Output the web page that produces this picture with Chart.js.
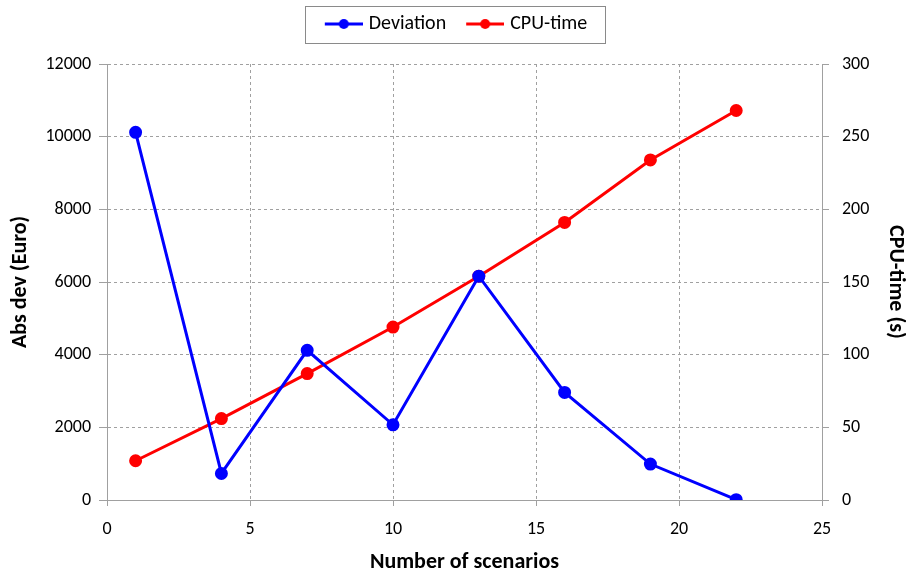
<!DOCTYPE html>
<html>
<head>
<meta charset="utf-8">
<script src="https://cdn.jsdelivr.net/npm/chart.js@4"></script>
<style>
  html, body { margin: 0; padding: 0; background: #fff; }
  #wrap { width: 906px; height: 575px; }
</style>
</head>
<body>
<div id="wrap"><canvas id="chart"></canvas></div>
<script>
// scenarios vs. deviation / cpu time
const scenarios = [1, 4, 7, 10, 13, 16, 19, 22];
const deviation = [10120, 730, 4120, 2070, 6160, 2960, 990, 10];
const cpuTime = [27, 56, 87, 119, 154, 191, 234, 268];

const FONT = "Carlito, Lato, sans-serif";
const GRID = "#a0a0a0";
const TICK_FONT = { family: FONT, size: 18 };
const TITLE_FONT = { family: FONT, size: 22, weight: "bold", lineHeight: 1 };

// line+dot swatch for the legend (blank strip on the left for spacing)
function swatch(color) {
  const c = document.createElement("canvas");
  c.width = 48;
  c.height = 12;
  const g = c.getContext("2d");
  g.strokeStyle = color;
  g.lineWidth = 3;
  g.beginPath();
  g.moveTo(10, 6);
  g.lineTo(48, 6);
  g.stroke();
  g.fillStyle = color;
  g.beginPath();
  g.arc(29, 6, 5, 0, Math.PI * 2);
  g.fill();
  return c;
}

// frame around the legend
const legendBox = {
  id: "legendBox",
  afterDraw(chart) {
    const lg = chart.legend;
    if (!lg || !lg.legendHitBoxes.length) return;
    const boxes = lg.legendHitBoxes;
    const first = boxes[0];
    const last = boxes[boxes.length - 1];
    const left = first.left - 14;
    const right = last.left + last.width + 18;
    const cy = first.top + first.height / 2;
    const ctx = chart.ctx;
    ctx.save();
    ctx.strokeStyle = "#8a8a8a";
    ctx.lineWidth = 1;
    ctx.strokeRect(Math.round(left) + 0.5, Math.round(cy - 18.5) + 0.5, Math.round(right - left), 37);
    ctx.restore();
  },
};

const toPoints = (ys) => scenarios.map((x, i) => ({ x: x, y: ys[i] }));

new Chart(document.getElementById("chart"), {
  type: "line",
  data: {
    datasets: [
      {
        label: "Deviation",
        data: toPoints(deviation),
        yAxisID: "y",
        borderColor: "#0000ff",
        backgroundColor: "#0000ff",
        borderWidth: 3,
        pointRadius: 5,
        tension: 0,
      },
      {
        label: "CPU-time",
        data: toPoints(cpuTime),
        yAxisID: "y1",
        borderColor: "#ff0000",
        backgroundColor: "#ff0000",
        borderWidth: 3,
        pointRadius: 5,
        tension: 0,
      },
    ],
  },
  options: {
    responsive: true,
    maintainAspectRatio: false,
    animation: false,
    layout: { padding: 0 },
    scales: {
      x: {
        type: "linear",
        min: 0,
        max: 25,
        ticks: { stepSize: 5, color: "#000", font: TICK_FONT, padding: 13 },
        grid: { color: GRID, tickLength: 6, tickColor: GRID },
        border: { color: GRID, dash: [3, 3] },
        title: {
          display: true,
          text: "Number of scenarios",
          color: "#000",
          font: TITLE_FONT,
          padding: { top: 0, bottom: 2 },
        },
        afterFit: (s) => { s.height = 75; },
      },
      // empty strip between legend and plot
      gap: {
        type: "linear",
        position: "top",
        display: true,
        grid: { display: false },
        ticks: { display: false },
        border: { display: false },
        afterFit: (s) => { s.height = 20; },
      },
      y: {
        position: "left",
        min: 0,
        max: 12000,
        ticks: { stepSize: 2000, color: "#000", font: TICK_FONT, padding: 8, callback: (v) => String(v) },
        grid: { color: GRID, tickLength: 8, tickColor: GRID },
        border: { color: GRID, dash: [3, 3] },
        title: {
          display: true,
          text: "Abs dev (Euro)",
          color: "#000",
          font: TITLE_FONT,
          padding: { top: 9, bottom: 0 },
        },
        afterFit: (s) => { s.width = 107; },
      },
      y1: {
        position: "right",
        min: 0,
        max: 300,
        ticks: { stepSize: 50, color: "#000", font: TICK_FONT, padding: 13 },
        grid: { drawOnChartArea: false, tickLength: 7, tickColor: GRID },
        border: { color: GRID },
        title: {
          display: true,
          text: "CPU-time (s)",
          color: "#000",
          font: TITLE_FONT,
          padding: { top: 0, bottom: 0 },
        },
        afterFit: (s) => { s.width = 84; },
      },
    },
    plugins: {
      legend: {
        position: "top",
        labels: {
          usePointStyle: true,
          pointStyleWidth: 40,
          generateLabels: (chart) =>
            chart.data.datasets.map((ds, i) => ({
              text: ds.label,
              pointStyle: swatch(ds.borderColor),
              fontColor: "#000",
              strokeStyle: ds.borderColor,
              fillStyle: ds.borderColor,
              lineWidth: 0,
              datasetIndex: i,
            })),
          color: "#000",
          font: { family: FONT, size: 20 },
          padding: 14,
        },
      },
      tooltip: { enabled: false },
    },
  },
  plugins: [legendBox],
});
</script>
</body>
</html>
